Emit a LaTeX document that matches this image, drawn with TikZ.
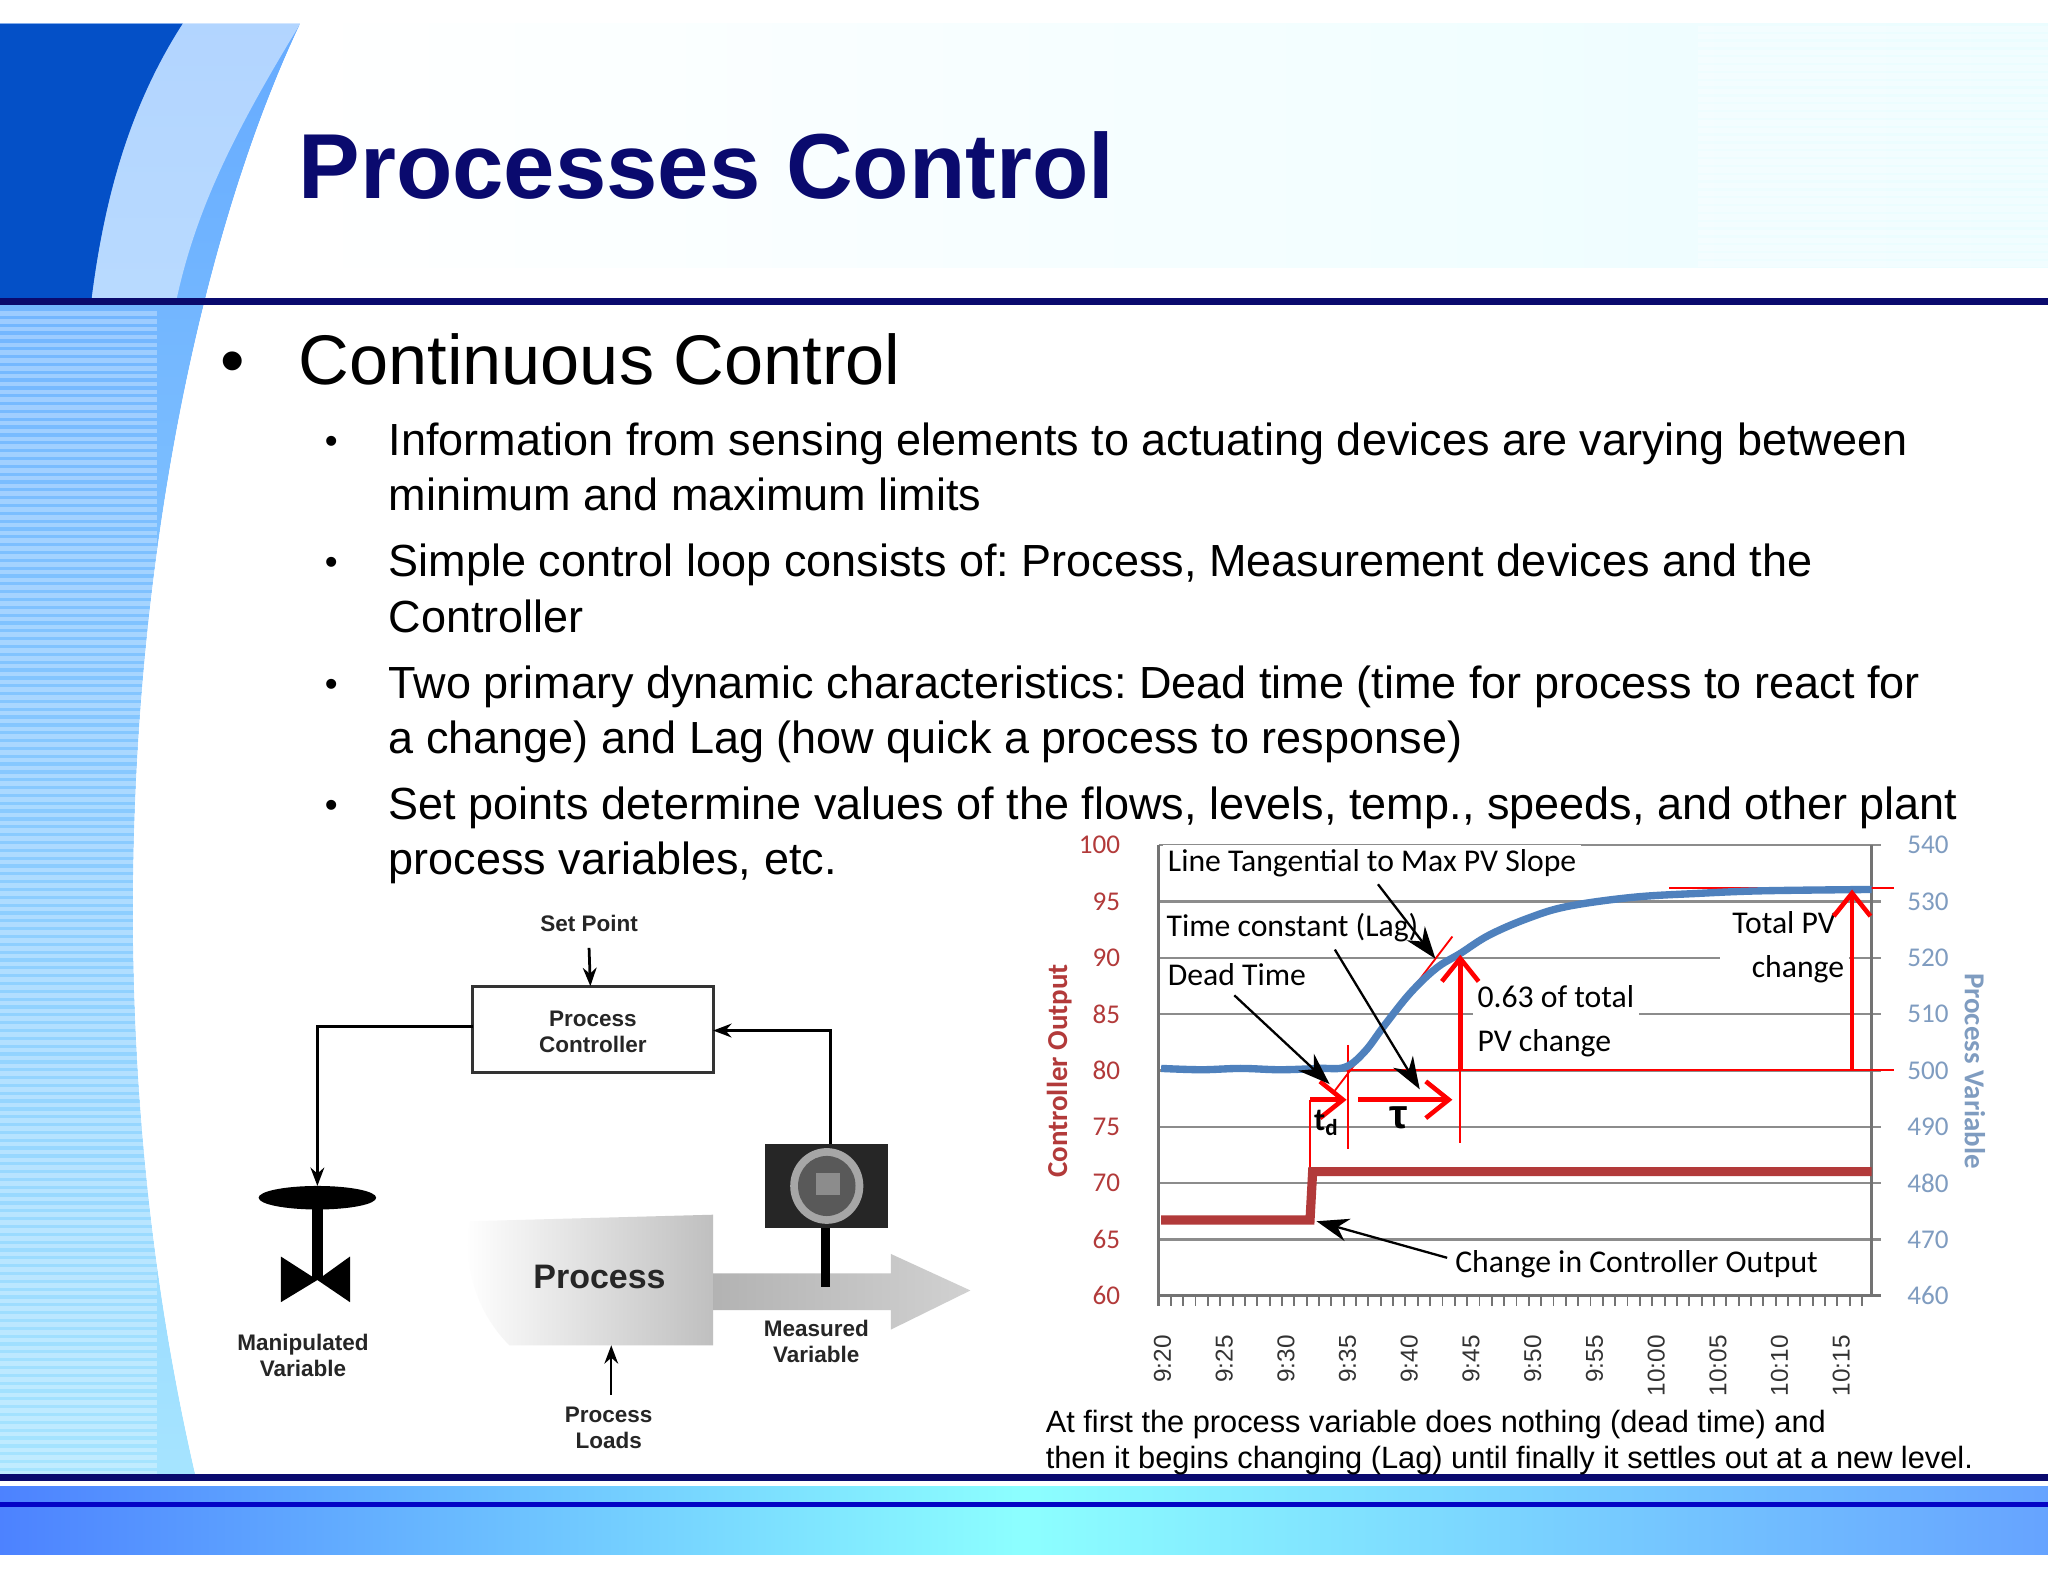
\documentclass[tikz,border=0pt]{standalone}
\usepackage{fontspec}
\setmainfont{Liberation Sans}
\newfontfamily\calfnt{Carlito}
\usetikzlibrary{arrows.meta}
\definecolor{navy}{HTML}{0A0A6E}
\definecolor{cored}{HTML}{B23A3A}
\definecolor{pvblue}{HTML}{4F81BD}
\definecolor{axblue}{HTML}{7F9CC0}
\frenchspacing
\begin{document}
\begin{tikzpicture}[x=0.01cm,y=-0.01cm,
  lbl/.style={font=\calfnt\fontsize{6.9}{7.5}\selectfont,inner sep=1pt},
  ltick/.style={font=\calfnt\fontsize{5.9}{6}\selectfont,text=cored,anchor=east},
  rtick/.style={font=\calfnt\fontsize{5.9}{6}\selectfont,text=axblue,anchor=west},
  ttick/.style={font=\fontsize{5.3}{6}\selectfont,rotate=90,anchor=east,text=black!80},
  dlbl/.style={font=\bfseries\fontsize{4.9}{5.6}\selectfont,align=center,text=black!85},
  blk/.style={-{Stealth[length=7pt,width=5pt]},black,line width=0.5pt},
  redar/.style={-{Straight Barb[length=5pt,width=8pt]},red,line width=1pt},
  bullet/.style={anchor=north west,font=\fontsize{9.8}{12}\selectfont,align=left,inner sep=0pt}]
\useasboundingbox (0,0) rectangle (1568,1211);
\fill[white] (0,0) rectangle (1568,1211);
% top band
\shade[left color=white,right color=blue!10!cyan!8] (230,18) rectangle (1568,205);
\foreach \y in {22,28,...,202} \draw[white,opacity=0.35,line width=1.2pt] (1300,\y)--(1568,\y);
% left decoration
\shade[top color=blue!55!cyan!60,bottom color=blue!30!cyan!35] (0,18) -- (230,18) .. controls (120,250) and (50,700) .. (150,1131) -- (0,1131) -- cycle;
\foreach \y in {240,246,...,1128} \draw[white,opacity=0.3,line width=1pt] (0,\y)--(120,\y);
\fill[blue!45!navy!70!cyan] (0,18) -- (140,18) .. controls (100,80) and (80,150) .. (70,230) -- (0,230) -- cycle;
\fill[white,opacity=0.5] (140,18) -- (230,18) .. controls (180,100) and (150,160) .. (135,230) -- (70,230) .. controls (80,150) and (100,80) .. (140,18);
\fill[white] (230,18) .. controls (120,250) and (50,700) .. (150,1131) -- (160,1131) .. controls (70,700) and (130,250) .. (240,18) -- cycle;
\draw[navy,line width=1.5pt] (0,231)--(1568,231);
% bottom band
\draw[navy,line width=1.5pt] (0,1131)--(1568,1131);
\shade[left color=blue!70!cyan!70,right color=blue!60!cyan!60,middle color=cyan!45] (0,1138) rectangle (1568,1190);
\draw[blue!60!navy,line width=1pt] (0,1152)--(1568,1152);
% title and text
\node[anchor=base west,font=\bfseries\fontsize{20.1}{24}\selectfont,text=navy,inner sep=0pt] (title) at (228,152) {Processes Control};
\node[anchor=base west,font=\fontsize{15.3}{18}\selectfont,inner sep=0pt] (cc) at (228,294) {Continuous Control};
\node[anchor=base west,font=\fontsize{15.2}{18}\selectfont,inner sep=0pt] (b0) at (168,294) {•};
\foreach \yy/\t [count=\i] in {323/{Information from sensing elements to actuating devices are varying between\\minimum and maximum limits},
  416/{Simple control loop consists of: Process, Measurement devices and the\\Controller},
  509/{Two primary dynamic characteristics: Dead time (time for process to react for\\a change) and Lag (how quick a process to response)},
  602/{Set points determine values of the flows, levels, temp., speeds, and other plant\\process variables, etc.}}{
  \node[bullet] (t\i) at (297,\yy) {\t};
  \node[anchor=base west,font=\fontsize{8}{12}\selectfont,inner sep=0pt] (d\i) at (248,\yy+24) {•};
}
% ===== chart =====
\begin{scope}
\fill[white] (880,645) rectangle (1440,1000);
\foreach \v in {65,70,...,100} \draw[black!45,line width=0.5pt] (887,{992-(\v-60)*8.625})--(1440,{992-(\v-60)*8.625});
\draw[black!55,line width=0.6pt] (887,647)--(887,1000);
\draw[black!55,line width=0.6pt] (1433,647)--(1433,992);
\draw[black!55,line width=0.6pt] (887,992)--(1440,992);
\foreach \k in {0,...,57} \draw[black!55,line width=0.4pt] ({887+\k*9.45},992)--({887+\k*9.45},1000);
\foreach \v in {60,65,...,100} \node[ltick] at (870,{992-(\v-60)*8.625}) {\v};
\foreach \v [count=\j from 0] in {460,470,...,540} \node[rtick] at (1448,{992-\j*43.125}) {\v};
\foreach \t [count=\j from 0] in {9:20,9:25,9:30,9:35,9:40,9:45,9:50,9:55,10:00,10:05,10:10,10:15}
  \node[ttick] at ({890+\j*47.25},1010) {\t};
\node[font=\calfnt\bfseries\fontsize{6.3}{7}\selectfont,text=cored,rotate=90] (yl) at (811,820) {Controller Output};
\node[font=\calfnt\bfseries\fontsize{6.3}{7}\selectfont,text=axblue,rotate=-90] (yr) at (1512,820) {Process Variable};
% label masks
\node[lbl,fill=white,anchor=west] (l1) at (890,661) {Line Tangential to Max PV Slope};
\node[lbl,fill=white,anchor=west] (l2) at (889,710) {Time constant (Lag)};
\node[lbl,fill=white,anchor=west] (l3) at (890,746) {Dead Time};
\node[lbl,fill=white,anchor=west,align=left] (l4) at (1127,782) {0.63 of total\\[2pt]PV change};
\node[lbl,fill=white,align=center] (l5) at (1366,725) {Total PV\\[2pt]\hspace*{6pt}change};
\node[lbl,fill=white,anchor=west] (l6) at (1110,968) {Change in Controller Output};
% red guides
\draw[red,line width=0.5pt] (1030,819)--(1450,819);
\draw[red,line width=0.5pt] (1278,680)--(1450,680);
\draw[red,line width=0.4pt] (1022,835)--(1112,717);
\draw[red,line width=0.5pt] (1032,800)--(1032,880);
\draw[red,line width=0.5pt] (1118,819)--(1118,875);
\draw[red,line width=0.6pt] (1003,842)--(1003,897);
% CO line
\draw[cored,line width=2pt] (889,934)--(1003,934)--(1005,897)--(1433,897);
% PV curve
\draw[pvblue,line width=1.6pt] plot[smooth,tension=0.6] coordinates {(889,818)(920,819)(950,818)(980,819)(1010,818)(1030,817)(1045,805)(1060,785)(1080,760)(1100,741)(1118,730)(1140,716)(1170,703)(1200,694)(1250,687)(1300,684)(1350,682)(1433,681)};
\coordinate (a1) at (1118,819); \coordinate (a1e) at (1118,731);
\coordinate (a2) at (1418,819); \coordinate (a2e) at (1418,681);
\draw[redar] (a1)--(a1e);
\draw[redar] (a2)--(a2e);
\coordinate (td0) at (1003,842); \coordinate (td1) at (1031,842);
\coordinate (ta0) at (1040,842); \coordinate (ta1) at (1112,842);
\draw[redar] (td0)--(td1);
\draw[redar] (ta0)--(ta1);
\node[font=\calfnt\bfseries\fontsize{7}{7}\selectfont] (tdl) at (1016,860) {t\textsubscript{d}};
\node[font=\bfseries\fontsize{9}{9}\selectfont] (taul) at (1071,856) {τ};
% black arrows
\coordinate (e1) at (1099,734); \coordinate (e2) at (1087,834); \coordinate (e3) at (1018,830); \coordinate (e4) at (1008,935);
\draw[blk] (1055,677)--(e1);
\draw[blk] (1022,727)--(e2);
\draw[blk] (945,762)--(e3);
\draw[blk] (1108,963)--(e4);
\end{scope}
\node[anchor=base west,font=\fontsize{6.7}{7}\selectfont,inner sep=0pt] (cap) at (800,1097) {At first the process variable does nothing (dead time) and};
\node[anchor=base west,font=\fontsize{6.7}{7}\selectfont,inner sep=0pt] (cap2) at (800,1124) {then it begins changing (Lag) until finally it settles out at a new level.};
% ===== block diagram =====
\node[dlbl] (sp) at (451,707) {Set Point};
\draw[line width=0.7pt,black!80] (362,755) rectangle (546,821);
\node[dlbl] (pct) at (454,790) {Process\\Controller};
\coordinate (pctop) at (452,755); \coordinate (pcl) at (362,786); \coordinate (pcr) at (546,789);
\draw[-{Stealth[length=4pt,width=3pt]},line width=0.6pt] (sp.south)--(pctop);
\coordinate (vt) at (243,908);
\draw[-{Stealth[length=4pt,width=3pt]},line width=0.6pt] (pcl)--(243,786)--(vt);
\fill[black] (243,917) ellipse (45 and 9);
\draw[black,line width=2.5pt] (243,917)--(243,980);
\fill[black] (215,962)--(243,980)--(215,997)--cycle;
\fill[black] (268,962)--(243,980)--(268,997)--cycle;
\node[dlbl] (mv) at (232,1038) {Manipulated\\Variable};
% process
\shade[left color=white,right color=black!25] (360,935) -- (546,930) -- (546,1030) -- (390,1030) .. controls (360,1000) and (355,960) .. (360,935);
\shade[left color=black!30,right color=black!18] (546,975)--(682,975)--(682,960)--(743,988)--(682,1018)--(682,1003)--(546,1003)--cycle;
\node[font=\bfseries\fontsize{7.4}{8}\selectfont,text=black!85] (proc) at (459,978) {Process};
\node[dlbl] (pl) at (466,1093) {Process\\Loads};
\coordinate (plt) at (468,1030);
\draw[-{Stealth[length=4pt,width=3pt]},line width=0.5pt] (468,1068)--(plt);
% gauge
\fill[black!85] (586,876) rectangle (680,940);
\fill[black!35] (633,908) ellipse (28 and 29);
\fill[black!65] (633,908) ellipse (22 and 23);
\fill[black!45] (625,898) rectangle (643,915);
\draw[line width=1.8pt] (632,940)--(632,985);
\draw[-{Stealth[length=4pt,width=3pt]},line width=0.6pt] (636,876)--(636,789)--(pcr);
\node[dlbl] (mev) at (625,1027) {Measured\\Variable};
\end{tikzpicture}
\end{document}
